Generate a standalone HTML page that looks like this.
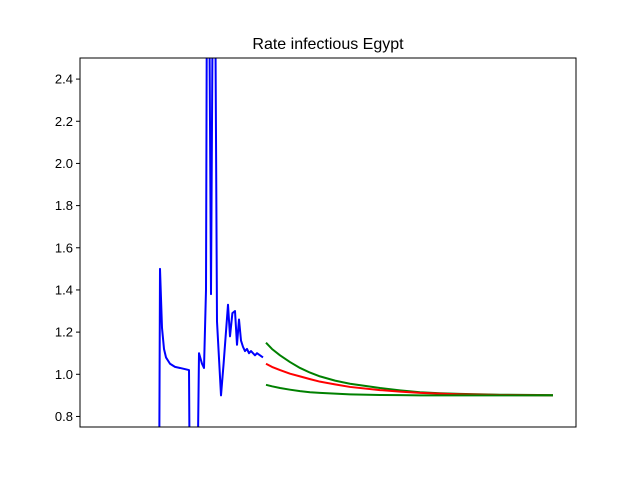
<!DOCTYPE html>
<html><head><meta charset="utf-8"><style>
html,body{margin:0;padding:0;background:#fff;overflow:hidden;width:640px;height:480px}
svg{display:block;font-family:"Liberation Sans","DejaVu Sans",sans-serif}
</style></head><body>
<svg id="chart" width="640" height="480">
<defs><clipPath id="clip"><rect x="80" y="58" width="496" height="369"/></clipPath></defs>
<text x="328" y="49" text-anchor="middle" font-size="16">Rate infectious Egypt</text>
<g id="yticks"></g>
<g id="series" clip-path="url(#clip)"></g>
<rect x="80" y="58" width="496" height="369" fill="none" stroke="#000" stroke-width="1"/>
</svg>
<script>
const yTicks=[0.8,1.0,1.2,1.4,1.6,1.8,2.0,2.2,2.4];
const yTickLabels=["0.8","1.0","1.2","1.4","1.6","1.8","2.0","2.2","2.4"];
const blueDays=[19.75,20,20.5,21,21.5,22.5,23.75,25,27.25,27.5,29.25,29.75,30.5,31,31.5,31.75,32.25,32.75,33.25,33.75,34.25,35.25,35.9,37,37.5,38.1,38.75,39.25,39.75,40.25,40.75,41.25,41.75,42.25,42.75,43.25,43.75,44.25,45,45.75];
const blueVals=[0.3,1.5,1.22,1.12,1.08,1.05,1.035,1.03,1.02,0.3,0.3,1.1,1.05,1.03,1.4,3,3,1.38,3,3,1.25,0.9,1.05,1.33,1.18,1.29,1.3,1.14,1.26,1.16,1.13,1.11,1.12,1.1,1.11,1.1,1.09,1.1,1.09,1.08];
const fcDays=[46.5,48,50,52.5,55,57.5,60,63.75,67.5,75,80,85,90,95,105,118.25];
const greenUpper=[1.15,1.12,1.09,1.058,1.03,1.008,0.99,0.97,0.955,0.935,0.924,0.915,0.91,0.907,0.903,0.901];
const redMid=[1.05,1.035,1.02,1.003,0.99,0.977,0.965,0.952,0.94,0.925,0.918,0.912,0.908,0.905,0.902,0.9];
const greenLower=[0.95,0.943,0.935,0.927,0.92,0.915,0.912,0.908,0.905,0.902,0.901,0.9,0.9,0.9,0.9,0.9];
const X=d=>80+d*4;
const Y=v=>427-(v-0.75)/(1.75)*369;
const ns="http://www.w3.org/2000/svg";
const yt=document.getElementById('yticks');
yTicks.forEach((t,i)=>{
  const l=document.createElementNS(ns,'line');
  l.setAttribute('x1',76);l.setAttribute('x2',80);
  l.setAttribute('y1',Y(t));l.setAttribute('y2',Y(t));
  l.setAttribute('stroke','#000');
  
  
  yt.appendChild(l);
  const tx=document.createElementNS(ns,'text');
  tx.setAttribute('x',73);tx.setAttribute('y',Y(t)+4.5);
  tx.setAttribute('text-anchor','end');tx.setAttribute('font-size','13');
  tx.textContent=yTickLabels[i];
  
  
  yt.appendChild(tx);
});
const sg=document.getElementById('series');
function line(xs,vs,color,name){
  const p=document.createElementNS(ns,'polyline');
  p.setAttribute('points',xs.map((d,i)=>X(d)+','+Y(vs[i])).join(' '));
  p.setAttribute('fill','none');p.setAttribute('stroke',color);
  p.setAttribute('stroke-width','2');p.setAttribute('stroke-linejoin','round');
  
  
  sg.appendChild(p);
}
line(blueDays,blueVals,'#0000ff','observed-rate-line');
line(fcDays,greenUpper,'#008000','upper-bound-line');
line(fcDays,redMid,'#ff0000','forecast-line');
line(fcDays,greenLower,'#008000','lower-bound-line');
</script>
</body></html>
